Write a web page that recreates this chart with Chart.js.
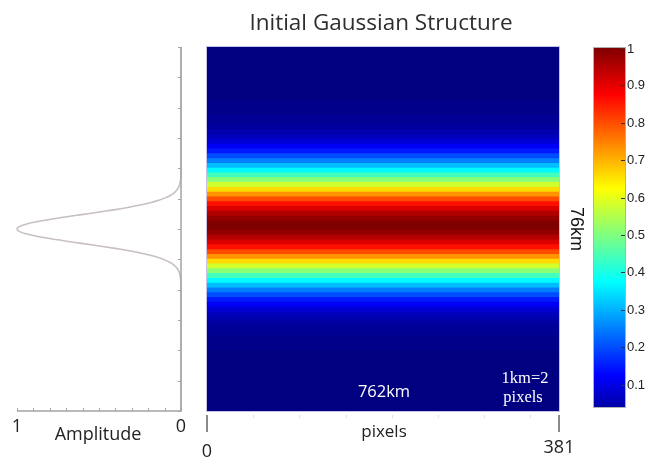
<!DOCTYPE html>
<html>
<head>
<title>Initial Gaussian Structure</title>
<style>
  body { margin: 0; background: #fff; }
  #wrap { position: relative; width: 646px; height: 460px; }
  #wrap canvas { position: absolute; left: 0; top: 0; }
</style>
<script src="https://cdn.jsdelivr.net/npm/chart.js"></script>
</head>
<body>
<div id="wrap">
  <canvas id="profile" width="646" height="460"></canvas>
  <canvas id="field" width="646" height="460"></canvas>
  <canvas id="cbar" width="646" height="460"></canvas>
</div>
<script>
// image is 381 x 152 pixels (762km x 76km, 1km = 2 pixels)
const fieldWidth = 381;
const fieldHeight = 152;

// amplitude of each 2-pixel row, bottom to top
const rowValues = [
  0, 0, 0, 0, 0, 0, 0, 0, 0, 0, 0, 0, 0, 0.01, 0.01, 0.01, 0.02, 0.02, 0.03, 0.045,
  0.06, 0.085, 0.115, 0.15, 0.2, 0.25, 0.31, 0.37, 0.44, 0.51, 0.58, 0.66, 0.73, 0.80, 0.86, 0.91,
  0.95, 0.98, 1.00,
  1.00, 0.98, 0.95, 0.91, 0.86, 0.80, 0.73, 0.66, 0.58, 0.51, 0.44, 0.37, 0.31, 0.25, 0.2,
  0.15, 0.115, 0.085, 0.06, 0.045, 0.03, 0.02, 0.02, 0.01, 0.01, 0.01, 0, 0, 0, 0, 0, 0, 0, 0, 0, 0, 0
];

// the profile drawn at the left
const profileRows = [0, 52, 53, 54, 55, 56, 57, 58, 59, 60, 61, 62, 63, 64, 65, 66, 67, 68, 69, 70, 71, 72, 73, 74, 75,
  76, 77, 78, 79, 80, 81, 82, 83, 84, 85, 86, 87, 88, 89, 90, 91, 92, 93, 94, 95, 96, 97, 98, 99, 100, 152];
const profileAmp = [0, 0, 0, 0.001, 0.002, 0.004, 0.007, 0.011, 0.018, 0.029, 0.044, 0.066, 0.096, 0.135, 0.187, 0.249,
  0.325, 0.411, 0.506, 0.607, 0.707, 0.801, 0.882, 0.946, 0.986,
  1, 0.986, 0.946, 0.882, 0.801, 0.707, 0.607, 0.506, 0.411, 0.325, 0.249, 0.187, 0.135, 0.096, 0.066, 0.044,
  0.029, 0.018, 0.011, 0.007, 0.004, 0.002, 0.001, 0, 0, 0];

const ampTicks = [0, 0.1, 0.2, 0.3, 0.4, 0.5, 0.6, 0.7, 0.8, 0.9, 1];
const pixelTicks = [50, 100, 150, 200, 250, 300, 350];
const cbarRange = [0.04, 1];
const cbarTicks = [0.1, 0.2, 0.3, 0.4, 0.5, 0.6, 0.7, 0.8, 0.9, 1];

function clamp(v) { return Math.max(0, Math.min(1, v)); }
function jet(v) {
  const r = clamp(Math.min(4 * v - 1.5, -4 * v + 4.5));
  const g = clamp(Math.min(4 * v - 0.5, -4 * v + 3.5));
  const b = clamp(Math.min(4 * v + 0.5, -4 * v + 2.5));
  return `rgb(${Math.round(r * 255)},${Math.round(g * 255)},${Math.round(b * 255)})`;
}

const sans = '"Open Sans", Lato, sans-serif';

const fieldDeco = {
  id: 'fieldDeco',
  afterDraw(chart) {
    const { ctx, chartArea: a } = chart;
    const x = chart.scales.x;
    ctx.save();
    ctx.strokeStyle = '#c4c4e6';
    ctx.lineWidth = 1;
    ctx.strokeRect(a.left - 0.5, a.top - 0.5, a.right - a.left + 1, a.bottom - a.top + 1);
    // minor ticks along the bottom
    ctx.strokeStyle = '#e2e2e2';
    pixelTicks.forEach(t => {
      const px = Math.round(x.getPixelForValue(t)) + 0.5;
      ctx.beginPath(); ctx.moveTo(px, a.bottom + 4); ctx.lineTo(px, a.bottom + 7); ctx.stroke();
    });
    // end ticks
    ctx.strokeStyle = '#8a8a8a';
    ctx.lineWidth = 2;
    [0, fieldWidth].forEach(t => {
      const px = x.getPixelForValue(t);
      ctx.beginPath(); ctx.moveTo(px, a.bottom + 4); ctx.lineTo(px, a.bottom + 21); ctx.stroke();
    });
    ctx.fillStyle = '#222';
    ctx.textAlign = 'center';
    ctx.textBaseline = 'middle';
    ctx.font = '18px ' + sans;
    ctx.fillText('0', x.getPixelForValue(0), 452);
    ctx.fillText(String(fieldWidth), x.getPixelForValue(fieldWidth), 448);
    ctx.font = '17px ' + sans;
    ctx.fillText('pixels', x.getPixelForValue(fieldWidth / 2) + 1, 432);
    ctx.fillStyle = '#2e2e2e';
    ctx.font = '22.5px ' + sans;
    ctx.fillText('Initial Gaussian Structure', 381, 24);
    // labels inside the image
    ctx.fillStyle = '#fff';
    ctx.font = '16.5px ' + sans;
    ctx.fillText('762km', x.getPixelForValue(fieldWidth / 2) + 1, 392);
    ctx.font = '16.5px "Liberation Serif", serif';
    ctx.fillText('1km=2', 525, 379);
    ctx.fillText('pixels', 523, 398);
    // side label
    ctx.fillStyle = '#111';
    ctx.font = '18px "Liberation Sans", Arial, sans-serif';
    ctx.translate(576, 229);
    ctx.rotate(Math.PI / 2);
    ctx.fillText('76km', 0, 0);
    ctx.restore();
  }
};

new Chart('field', {
  type: 'bar',
  data: {
    labels: rowValues.map((v, i) => i),
    datasets: [{
      data: rowValues.map(() => [0, fieldWidth]),
      backgroundColor: rowValues.map(jet),
      borderWidth: 0,
      inflateAmount: 1,
      barPercentage: 1,
      categoryPercentage: 1
    }]
  },
  options: {
    indexAxis: 'y',
    responsive: false,
    animation: false,
    layout: { padding: { left: 207, right: 87, top: 47, bottom: 49 } },
    scales: {
      x: { type: 'linear', min: 0, max: fieldWidth, display: false },
      y: { reverse: true, display: false }
    },
    plugins: { legend: { display: false }, tooltip: { enabled: false } }
  },
  plugins: [fieldDeco]
});

const cbarDeco = {
  id: 'cbarDeco',
  afterDraw(chart) {
    const { ctx, chartArea: a } = chart;
    const y = chart.scales.y;
    ctx.save();
    ctx.strokeStyle = '#b0b0b0';
    ctx.lineWidth = 1;
    ctx.strokeRect(a.left - 0.5, a.top - 0.5, a.right - a.left + 1, a.bottom - a.top + 1);
    ctx.strokeStyle = '#333';
    ctx.fillStyle = '#222';
    ctx.font = '13px "Liberation Sans", Arial, sans-serif';
    ctx.textAlign = 'left';
    ctx.textBaseline = 'middle';
    cbarTicks.forEach(t => {
      const py = Math.round(y.getPixelForValue(t)) + 0.5;
      ctx.beginPath(); ctx.moveTo(a.right - 4, py); ctx.lineTo(a.right, py); ctx.stroke();
      ctx.fillText(String(t), a.right + 2, t === 1 ? py + 1 : py);
    });
    ctx.restore();
  }
};

new Chart('cbar', {
  type: 'bar',
  data: {
    labels: ['colour'],
    datasets: [{
      data: [cbarRange],
      backgroundColor(c) {
        const chart = c.chart;
        if (!chart.chartArea) return '#000080';
        const y = chart.scales.y;
        const g = chart.ctx.createLinearGradient(0, y.getPixelForValue(0), 0, y.getPixelForValue(1));
        [0, 0.125, 0.375, 0.625, 0.875, 1].forEach(s => g.addColorStop(s, jet(s)));
        return g;
      },
      borderWidth: 0,
      barPercentage: 1,
      categoryPercentage: 1
    }]
  },
  options: {
    responsive: false,
    animation: false,
    layout: { padding: { left: 594, right: 21, top: 48, bottom: 53 } },
    scales: {
      x: { display: false },
      y: { min: cbarRange[0], max: cbarRange[1], display: false }
    },
    plugins: { legend: { display: false }, tooltip: { enabled: false } }
  },
  plugins: [cbarDeco]
});

const profileDeco = {
  id: 'profileDeco',
  afterDraw(chart) {
    const { ctx, chartArea: a } = chart;
    const x = chart.scales.x;
    ctx.save();
    ctx.strokeStyle = '#a4a4a4';
    ctx.lineWidth = 1.5;
    const x0 = x.getPixelForValue(0);
    ctx.beginPath();
    ctx.moveTo(x0, a.top);
    ctx.lineTo(x0, a.bottom);
    ctx.lineTo(x.getPixelForValue(1), a.bottom);
    ctx.stroke();
    ctx.lineWidth = 1;
    for (let i = 0; i <= 12; i++) {
      const py = Math.round(a.top + (a.bottom - a.top) * i / 12) + 0.5;
      ctx.beginPath(); ctx.moveTo(x0 - 3, py); ctx.lineTo(x0, py); ctx.stroke();
    }
    ampTicks.forEach(t => {
      const px = Math.round(x.getPixelForValue(t)) + 0.5;
      ctx.beginPath(); ctx.moveTo(px, a.bottom - 3); ctx.lineTo(px, a.bottom); ctx.stroke();
    });
    ctx.fillStyle = '#222';
    ctx.textAlign = 'center';
    ctx.textBaseline = 'middle';
    ctx.font = '18px ' + sans;
    ctx.fillText('1', x.getPixelForValue(1), 427);
    ctx.fillText('0', x0, 427);
    ctx.fillText('Amplitude', 98, 435);
    ctx.restore();
  }
};

new Chart('profile', {
  type: 'scatter',
  data: {
    datasets: [{
      data: profileRows.map((r, i) => ({ x: profileAmp[i], y: r })),
      showLine: true,
      borderColor: '#c8c0c0',
      borderWidth: 1.6,
      pointRadius: 0,
      tension: 0.3,
      clip: false
    }]
  },
  options: {
    responsive: false,
    animation: false,
    layout: { padding: { left: 17, right: 465, top: 47, bottom: 49 } },
    scales: {
      x: { type: 'linear', reverse: true, min: 0, max: 1, display: false },
      y: { min: 0, max: fieldHeight, display: false }
    },
    plugins: { legend: { display: false }, tooltip: { enabled: false } }
  },
  plugins: [profileDeco]
});
</script>
</body>
</html>
